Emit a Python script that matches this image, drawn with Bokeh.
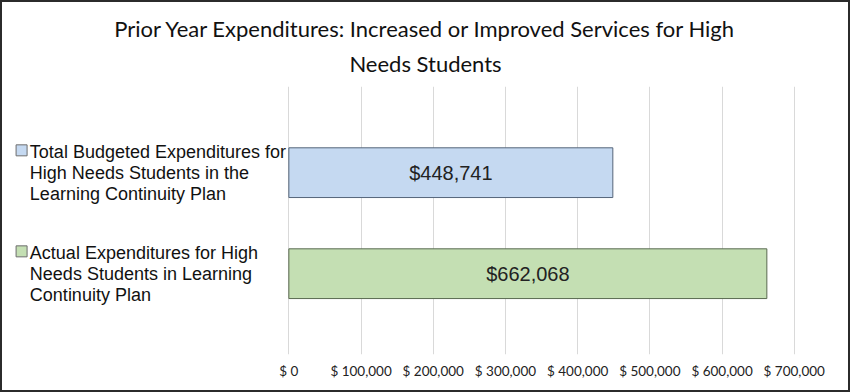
from bokeh.plotting import figure
from bokeh.models import ColumnDataSource, Range1d, FixedTicker, Title
from bokeh.core.properties import value
from bokeh.embed import file_html
from bokeh.resources import INLINE

# ---- data ----
categories = [
    "Total Budgeted Expenditures for\nHigh Needs Students in the\nLearning Continuity Plan",
    "Actual Expenditures for High\nNeeds Students in Learning\nContinuity Plan",
]
values = [448741, 662068]
bar_labels = ["$448,741", "$662,068"]
bar_colors = ["#c5d9f1", "#c4dfb3"]
bar_borders = ["#55657a", "#5a6a50"]
tick_values = [0, 100000, 200000, 300000, 400000, 500000, 600000, 700000]
tick_labels = ["$ 0", "$ 100,000", "$ 200,000", "$ 300,000", "$ 400,000",
               "$ 500,000", "$ 600,000", "$ 700,000"]
title_lines = ["Prior Year Expenditures: Increased or Improved Services for High",
               "Needs Students"]

# ---- layout (pixels, inside the canvas) ----
W, H = 850, 392
INNER = 2                       # css border width
ZERO_PX = 285                   # x of value 0 from frame left
AXIS_PX = 503                   # px spanned by 0..700,000
FRAME_TOP, FRAME_BOT = 84, 348
FRAME_RIGHT = W - 2 * INNER - 4
X_MAX = tick_values[-1]
ppx = AXIS_PX / X_MAX           # px per dollar
x_start = -ZERO_PX / ppx
x_end = (FRAME_RIGHT - ZERO_PX) / ppx
y_lo, y_hi = -0.80, 1.853
pxu = (FRAME_BOT - FRAME_TOP) / (y_hi - y_lo)
LINE_H = 21

n = len(categories)
ypos = [n - 1 - i for i in range(n)]
nlines = [c.count("\n") + 1 for c in categories]
sq_y = [y + ((k - 1) / 2 * LINE_H + 1) / pxu for y, k in zip(ypos, nlines)]
sq_x = [x_start + 19 / ppx] * n

src = ColumnDataSource(dict(
    cat=categories, y=ypos, val=values, half=[v / 2 for v in values],
    lab=bar_labels, fill=bar_colors, line=bar_borders, sqx=sq_x, sqy=sq_y,
))

p = figure(width=W, height=H, x_range=Range1d(x_start, x_end),
           y_range=Range1d(y_lo, y_hi),
           output_backend="svg", toolbar_location=None, y_axis_type=None,
           min_border_left=0, min_border_right=W - 2 * INNER - FRAME_RIGHT,
           min_border_top=FRAME_TOP, min_border_bottom=H - 2 * INNER - FRAME_BOT)
p.styles = {"border": "2px solid #2b2b2b"}
p.outline_line_color = None
p.background_fill_color = "white"
p.border_fill_color = "white"

# title: one centred Title per line (nearest the frame added first)
p.add_layout(Title(text=title_lines[1], align="center", vertical_align="top",
                   text_font="Lato", text_font_size="22px",
                   text_font_style="normal", text_color="#111111",
                   standoff=16), "above")
p.add_layout(Title(text=title_lines[0], align="center", text_font="Lato",
                   text_font_size="22px", text_font_style="normal",
                   text_color="#111111", standoff=0), "above")

p.hbar(y="y", right="val", left=0, height=49 / pxu, source=src,
       fill_color="fill", line_color="line", line_width=1)

p.text(x="half", y="y", text="lab", source=src, text_align="center",
       text_baseline="middle", text_font=value("Liberation Sans"),
       text_font_size="20px", text_color="#222222")

# legend-like category labels at the left
p.text(x=0, y="y", text="cat", source=src, x_offset=-(ZERO_PX + INNER - 28),
       y_offset=0, text_align="left", text_baseline="middle",
       text_font=value("Liberation Sans"), text_font_size="18px",
       text_line_height=1.05, text_color="#111111")
p.scatter(x="sqx", y="sqy", source=src, marker="square", size=11,
          fill_color="fill", line_color="#6d6d6d", line_width=1)

p.xaxis.ticker = FixedTicker(ticks=tick_values)
p.xaxis.major_label_overrides = {t: l for t, l in zip(tick_values, tick_labels)}
p.xaxis.axis_line_color = None
p.xaxis.major_tick_line_color = None
p.xaxis.minor_tick_line_color = None
p.xaxis.major_tick_out = 0
p.xaxis.major_tick_in = 0
p.xaxis.minor_tick_out = 0
p.xaxis.major_label_text_font = "Lato"
p.xaxis.major_label_text_font_size = "13.5px"
p.xaxis.major_label_text_color = "#222222"
p.xaxis.major_label_standoff = 8

p.xgrid.grid_line_color = "#d9d9d9"
p.xgrid.grid_line_width = 1
p.ygrid.grid_line_color = None

open("out.html", "w").write(file_html(p, INLINE))
